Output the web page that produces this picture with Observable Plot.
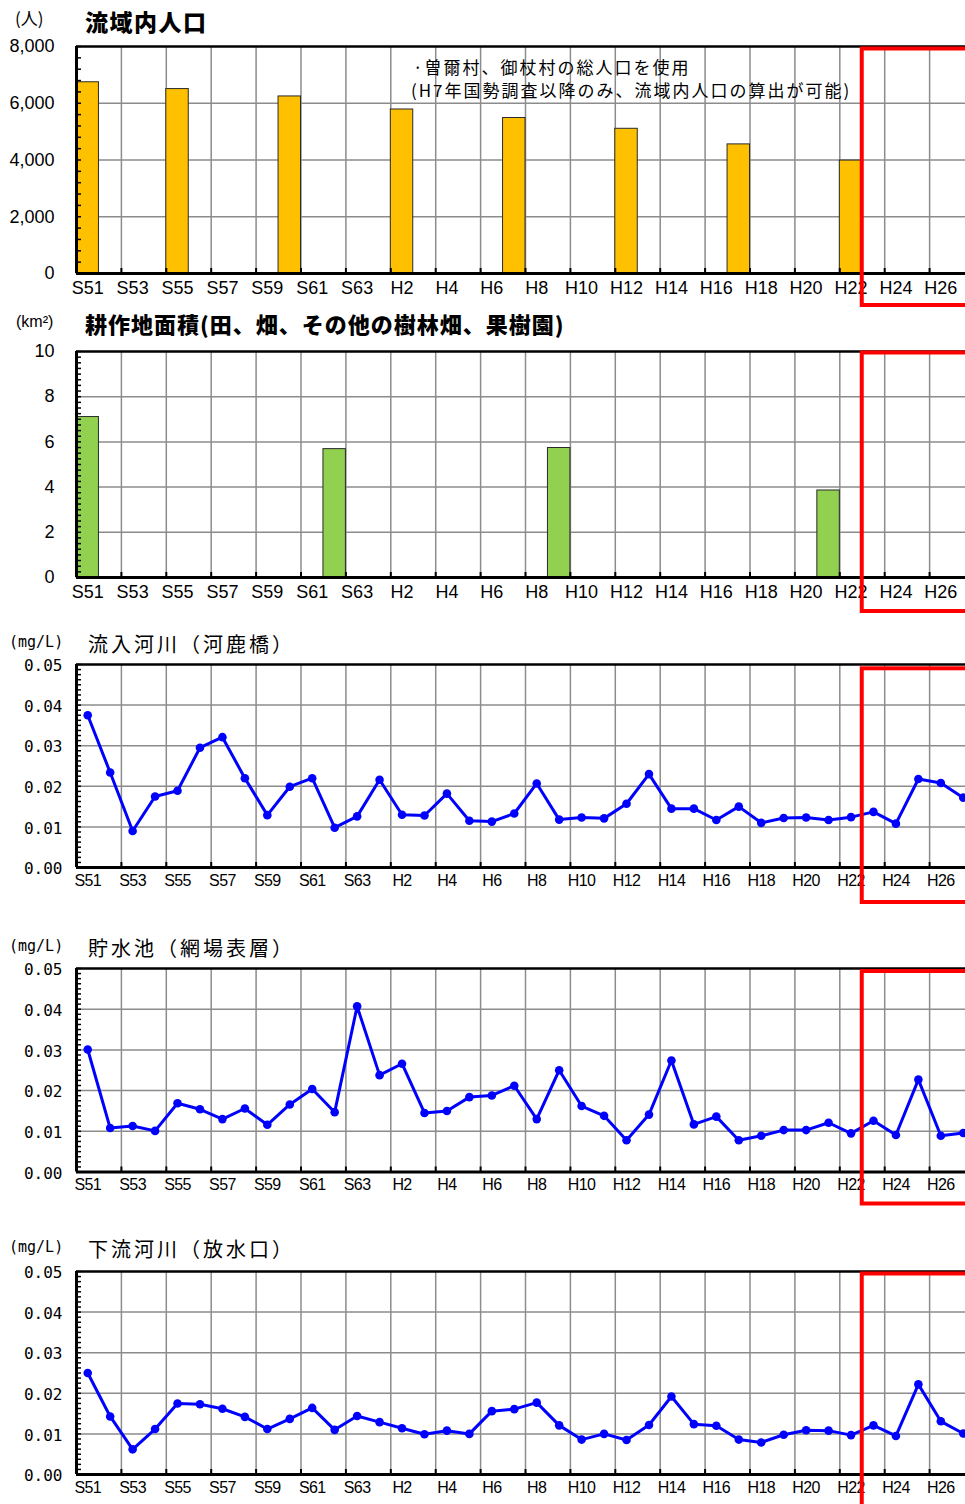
<!DOCTYPE html>
<html>
<head>
<meta charset="utf-8">
<script src="https://cdn.jsdelivr.net/npm/d3@7"></script>
<script src="https://cdn.jsdelivr.net/npm/@observablehq/plot@0.6"></script>
<style>
html, body { margin: 0; padding: 0; background: #fff; overflow: hidden; }
#page { position: relative; width: 965px; height: 1504px; overflow: hidden; background: #fff; }
.abs { position: absolute; white-space: nowrap; color: #000; }
.abs svg { display: block; max-width: none !important; }
</style>
</head>
<body>
<div id="page"></div>
<script>
// ---------------- DATA ----------------
const categories = ["S51","S52","S53","S54","S55","S56","S57","S58","S59","S60","S61","S62","S63",
  "H1","H2","H3","H4","H5","H6","H7","H8","H9","H10","H11","H12","H13","H14","H15","H16","H17",
  "H18","H19","H20","H21","H22","H23","H24","H25","H26","H27"];

// 流域内人口 (人)
const popYears  = ["S51","S55","S60","H2","H7","H12","H17","H22"];
const popValues = [6740, 6500, 6240, 5780, 5480, 5100, 4550, 3980];

// 耕作地面積 (km2)
const farmYears  = ["S51","S62","H9","H21"];
const farmValues = [7.1, 5.68, 5.73, 3.85];

// 流入河川（河鹿橋） mg/L
const inflowValues = [0.0375,0.0234,0.0090,0.0175,0.0189,0.0295,0.0321,0.0220,0.0129,0.0199,
  0.0220,0.0098,0.0126,0.0216,0.0130,0.0128,0.0182,0.0115,0.0113,0.0133,
  0.0207,0.0118,0.0123,0.0121,0.0157,0.0230,0.0145,0.0145,0.0117,0.0150,
  0.0110,0.0122,0.0123,0.0117,0.0124,0.0137,0.0108,0.0218,0.0208,0.0172];

// 貯水池（網場表層） mg/L
const reservoirValues = [0.0301,0.0108,0.0113,0.0101,0.0169,0.0154,0.0130,0.0156,0.0116,0.0166,
  0.0204,0.0147,0.0407,0.0238,0.0266,0.0145,0.0150,0.0184,0.0188,0.0212,
  0.0130,0.0250,0.0162,0.0138,0.0078,0.0141,0.0274,0.0117,0.0136,0.0078,
  0.0089,0.0103,0.0103,0.0121,0.0095,0.0126,0.0091,0.0227,0.0089,0.0096];

// 下流河川（放水口） mg/L
const outflowValues = [0.0250,0.0143,0.0062,0.0112,0.0175,0.0173,0.0162,0.0142,0.0112,0.0137,
  0.0164,0.0110,0.0144,0.0129,0.0114,0.0099,0.0108,0.0100,0.0156,0.0161,
  0.0177,0.0121,0.0086,0.0100,0.0085,0.0122,0.0192,0.0124,0.0120,0.0086,
  0.0079,0.0098,0.0109,0.0108,0.0097,0.0121,0.0095,0.0222,0.0131,0.0101];

// highlighted period
const highlight = [{from: "H23", to: "H27"}];

const popTicks  = [0, 2000, 4000, 6000, 8000];
const farmTicks = [0, 2, 4, 6, 8, 10];
const mgTicks   = [0, 0.01, 0.02, 0.03, 0.04, 0.05];

const noteLines = ["·曽爾村、御杖村の総人口を使用", "(H7年国勢調査以降のみ、流域内人口の算出が可能)"];

// ---------------- LAYOUT ----------------
const W = 980, ML = 76, MR = 6, MT = 10, MB = 42;
const GRID = "#8c8c8c";
const SANS = "'Liberation Sans', Arial, sans-serif";
const NARROW = "'Liberation Sans Narrow', 'Arial Narrow', 'Liberation Sans', Arial, sans-serif";
const CJK = "'Noto Sans CJK JP', 'Noto Sans', sans-serif";
const MONO = "'DejaVu Sans Mono', monospace";
const page = document.getElementById("page");

function addText(html, o) {
  const d = document.createElement("div");
  d.className = "abs";
  const L = o.lh || Math.round(o.size * 1.4);
  Object.assign(d.style, {
    left: o.left + "px", top: (o.cy - L / 2) + "px", fontSize: o.size + "px",
    lineHeight: L + "px", fontWeight: o.weight || 400, fontFamily: o.family,
    letterSpacing: (o.ls || 0) + "px"
  });
  d.innerHTML = html;
  page.appendChild(d);
}

const idx = c => categories.indexOf(c);

function chart(cfg) {
  const plotW = W - ML - MR;
  const H = MT + cfg.plotH + MB;
  const ymax = cfg.yTicks[cfg.yTicks.length - 1];
  const nMinor = Math.round(ymax / cfg.minor);
  const minors = d3.range(nMinor + 1).map(k => k * cfg.minor);
  const allIdx = categories.map((c, i) => i);
  const gridX = allIdx.filter(i => i % 2 === 0 && i > 0).map(i => i - 0.5);
  const labelIdx = allIdx.filter(i => i % 2 === 0);
  const hl = highlight.map(h => ({x1: idx(h.from) - 0.5, x2: idx(h.to) + 0.5}));
  const svg = Plot.plot({
    width: W, height: H,
    marginLeft: ML, marginRight: MR, marginTop: MT, marginBottom: MB,
    x: {domain: [-0.5, categories.length - 0.5]},
    y: {domain: [0, ymax]},
    style: {background: "transparent", fontFamily: SANS, fontSize: "16px", color: "#000", maxWidth: "none"},
    marks: [
      Plot.ruleY(cfg.yTicks.slice(1, -1), {stroke: GRID, strokeWidth: 1.5}),
      Plot.ruleX(gridX, {stroke: GRID, strokeWidth: 1.5}),
      ...cfg.marks,
      Plot.ruleY([0], {stroke: "#000", strokeWidth: 3}),
      Plot.ruleY([ymax], {stroke: "#000", strokeWidth: 2.5}),
      Plot.ruleX([-0.5], {stroke: "#000", strokeWidth: 3}),
      Plot.tickY(minors, {stroke: "#000", strokeWidth: 1.5, insetRight: plotW - 5}),
      Plot.tickX(gridX, {stroke: "#000", strokeWidth: 2, insetTop: cfg.plotH - 5}),
      Plot.axisY(cfg.yTicks, {tickSize: 0, tickPadding: cfg.yPad, tickFormat: cfg.yFmt, label: null,
        fontSize: cfg.yFont.size, fontFamily: cfg.yFont.family, dy: cfg.yFont.dy || 0}),
      Plot.axisX(labelIdx, {tickSize: 0, tickPadding: cfg.xPad, tickFormat: i => categories[i], label: null,
        fontSize: cfg.xFont.size, fontFamily: cfg.xFont.family}),
      Plot.rect(hl, {x1: "x1", x2: "x2", y1: d => 0, y2: d => ymax, fill: "none", stroke: "#ff0000",
        strokeWidth: 4, insetTop: cfg.hlTop, insetBottom: cfg.hlBottom})
    ]
  });
  svg.style.maxWidth = "none";
  svg.style.width = W + "px";
  // fine font tuning for tick labels
  d3.select(svg).selectAll('g[aria-label="y-axis tick label"]')
    .attr("font-family", cfg.yFont.family).attr("font-size", cfg.yFont.size)
    .style("letter-spacing", (cfg.yFont.ls || 0) + "px");
  d3.select(svg).selectAll('g[aria-label="x-axis tick label"]')
    .attr("font-family", cfg.xFont.family).attr("font-size", cfg.xFont.size)
    .style("letter-spacing", (cfg.xFont.ls || 0) + "px");
  const wrap = document.createElement("div");
  wrap.className = "abs";
  wrap.style.left = "0px";
  wrap.style.width = W + "px";
  wrap.style.top = (cfg.plotTop - MT) + "px";
  wrap.appendChild(svg);
  page.appendChild(wrap);
}

function barMarks(years, values, color) {
  const data = years.map((y, i) => ({year: y, value: values[i]}));
  return [Plot.rect(data, {
    x1: d => idx(d.year) - 0.5, x2: d => idx(d.year) + 0.5,
    y1: d => 0, y2: "value", fill: color, stroke: "#2a2a2a", strokeWidth: 1
  })];
}
function lineMarks(values) {
  return [
    Plot.line(values, {x: (d, i) => i, y: d => d, stroke: "#0000ff", strokeWidth: 3}),
    Plot.dot(values, {x: (d, i) => i, y: d => d, r: 4.3, fill: "#0000ff", stroke: "none"})
  ];
}

const barY = {size: 18, family: SANS};
const barX = {size: 18, family: SANS};
const mgY = {size: 16, family: MONO, dy: 1.5};
const mgX = {size: 16, family: NARROW, ls: -0.6};

// Panel 1: 流域内人口
addText("(人)", {left: 15, cy: 18, size: 17, family: CJK});
addText("流域内人口", {left: 85, cy: 21, size: 23, weight: 900, family: CJK, ls: 1.5});
chart({plotTop: 46, plotH: 227, yTicks: popTicks, yFmt: d3.format(","), minor: 400,
  yPad: 22, xPad: 8, yFont: barY, xFont: barX, hlTop: 2.5, hlBottom: -32,
  marks: barMarks(popYears, popValues, "#FFC000")});
addText(noteLines[0], {left: 413, cy: 66, size: 17, family: CJK, ls: 2, lh: 23});
addText(noteLines[1], {left: 411, cy: 89, size: 17, family: CJK, ls: 2, lh: 23});

// Panel 2: 耕作地面積
addText("(km²)", {left: 16, cy: 322, size: 16, family: SANS});
addText("耕作地面積(田、畑、その他の樹林畑、果樹園)", {left: 85, cy: 323.5, size: 22, weight: 900, family: CJK, ls: 1});
chart({plotTop: 351, plotH: 226, yTicks: farmTicks, yFmt: d => String(d), minor: 0.25,
  yPad: 22, xPad: 8, yFont: barY, xFont: barX, hlTop: 1.5, hlBottom: -34,
  marks: barMarks(farmYears, farmValues, "#92D050")});

// Panel 3: 流入河川
addText("(mg/L)", {left: 9, cy: 642.5, size: 15, family: MONO});
addText("流入河川（河鹿橋）", {left: 88, cy: 644, size: 20, family: CJK, ls: 3});
chart({plotTop: 664, plotH: 203, yTicks: mgTicks, yFmt: d3.format(".2f"), minor: 0.00125,
  yPad: 14, xPad: 7, yFont: mgY, xFont: mgX, hlTop: 4.3, hlBottom: -35,
  marks: lineMarks(inflowValues)});

// Panel 4: 貯水池
addText("(mg/L)", {left: 9, cy: 946, size: 15, family: MONO});
addText("貯水池（網場表層）", {left: 88, cy: 948, size: 20, family: CJK, ls: 3});
chart({plotTop: 968, plotH: 203.5, yTicks: mgTicks, yFmt: d3.format(".2f"), minor: 0.00125,
  yPad: 14, xPad: 7, yFont: mgY, xFont: mgX, hlTop: 3, hlBottom: -32,
  marks: lineMarks(reservoirValues)});

// Panel 5: 下流河川
addText("(mg/L)", {left: 9, cy: 1247.5, size: 15, family: MONO});
addText("下流河川（放水口）", {left: 88, cy: 1249, size: 20, family: CJK, ls: 3});
chart({plotTop: 1271, plotH: 203, yTicks: mgTicks, yFmt: d3.format(".2f"), minor: 0.00125,
  yPad: 14, xPad: 7, yFont: mgY, xFont: mgX, hlTop: 2.5, hlBottom: -40,
  marks: lineMarks(outflowValues)});
</script>
</body>
</html>
